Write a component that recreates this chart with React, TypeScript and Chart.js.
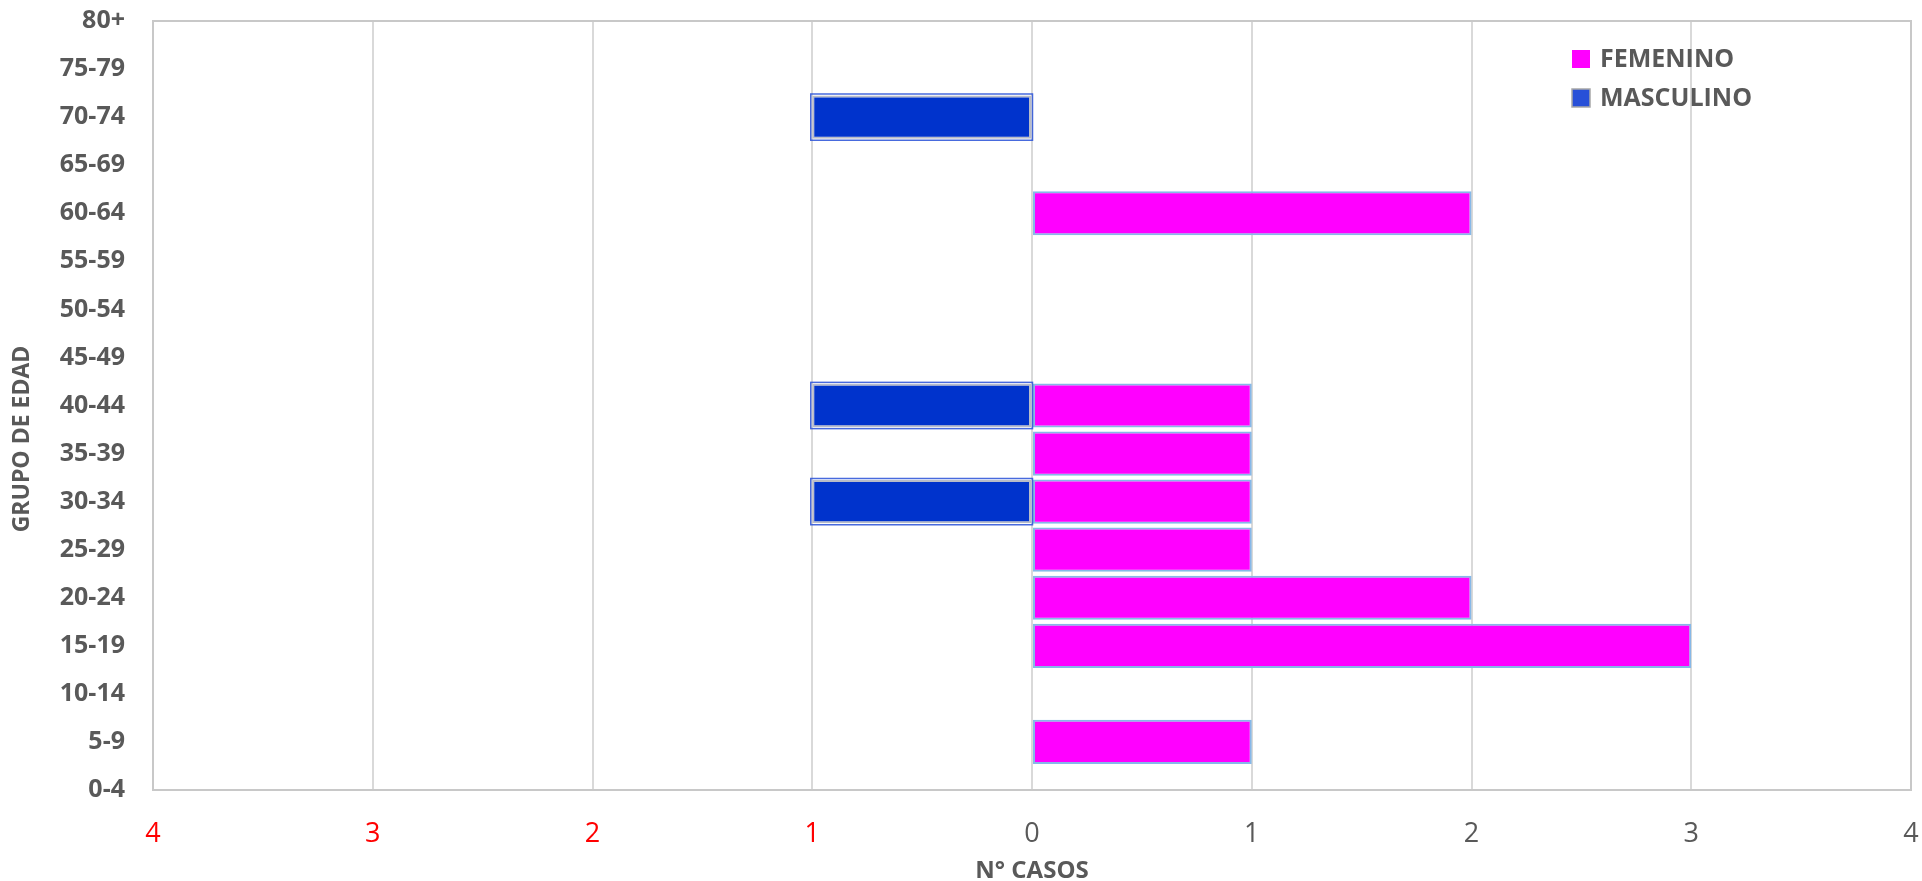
import React, { useEffect, useRef } from "react";
import { Chart, registerables } from "chart.js";

Chart.register(...registerables);

const ageGroups = [
  "0-4", "5-9", "10-14", "15-19", "20-24", "25-29", "30-34", "35-39", "40-44",
  "45-49", "50-54", "55-59", "60-64", "65-69", "70-74", "75-79", "80+",
];
const femenino = [0, 1, 0, 3, 2, 1, 1, 1, 1, 0, 0, 0, 2, 0, 0, 0, 0];
const masculino = [0, 0, 0, 0, 0, 0, 1, 0, 1, 0, 0, 0, 0, 0, 1, 0, 0];
const seriesNames = ["FEMENINO", "MASCULINO"];
const xTitle = "N° CASOS";
const yTitle = "GRUPO DE EDAD";
const xMin = -4;
const xMax = 4;

const FONT = "'Open Sans', sans-serif";
const GRAY = "#595959";

export default function App() {
  const ref = useRef<HTMLCanvasElement | null>(null);

  useEffect(() => {
    document.body.style.margin = "0";
    document.body.style.overflow = "hidden";
    const canvas = ref.current;
    if (!canvas) return;

    const borderPlugin = {
      id: "plotBorder",
      afterDatasetsDraw(chart: any) {
        const { ctx, chartArea: a } = chart;
        ctx.save();
        // outer blue outline for the male bars
        const meta = chart.getDatasetMeta(1);
        ctx.strokeStyle = "rgba(40,80,215,0.85)";
        ctx.lineWidth = 1.5;
        for (const el of meta.data as any[]) {
          if (el.skip || el.x == null || isNaN(el.x)) continue;
          const h = el.height;
          const left = Math.min(el.x, el.base);
          const w = Math.abs(el.base - el.x);
          if (!w) continue;
          ctx.strokeRect(left - 1.5, el.y - h / 2 - 1.5, w + 3, h + 3);
        }
        ctx.strokeStyle = "#C8C8C8";
        ctx.lineWidth = 2;
        ctx.strokeRect(a.left, a.top, a.right - a.left, a.bottom - a.top);
        ctx.restore();
      },
    };

    const textPlugin = {
      id: "customText",
      afterDraw(chart: any) {
        const { ctx } = chart;
        const items = [
          { name: seriesNames[0], fill: "#FF00FF", stroke: "#FF00FF", y: 59 },
          { name: seriesNames[1], fill: "#2850D8", stroke: "#A8A8A8", y: 98 },
        ];
        ctx.save();
        ctx.font = `bold 25px ${FONT}`;
        ctx.textBaseline = "middle";
        ctx.textAlign = "left";
        for (const it of items) {
          ctx.fillStyle = it.fill;
          ctx.fillRect(1572, it.y - 9, 18, 18);
          if (it.stroke !== it.fill) {
            ctx.strokeStyle = it.stroke;
            ctx.lineWidth = 1.5;
            ctx.strokeRect(1572, it.y - 9, 18, 18);
          }
          ctx.fillStyle = GRAY;
          ctx.fillText(it.name, 1600, it.y + 1);
        }
        // y-axis title
        ctx.translate(22, 439);
        ctx.rotate(-Math.PI / 2);
        ctx.textAlign = "center";
        ctx.font = `bold 23px ${FONT}`;
        ctx.fillStyle = GRAY;
        ctx.fillText(yTitle, 0, 0);
        ctx.restore();
      },
    };

    const chart = new Chart(canvas, {
      type: "bar",
      data: {
        labels: ageGroups,
        datasets: [
          {
            label: seriesNames[0],
            data: femenino.map((v) => (v ? v : null)),
            backgroundColor: "#FF00FF",
            borderColor: "#86B8E8",
            borderWidth: 2,
            borderSkipped: false,
            barPercentage: 0.92,
            categoryPercentage: 1,
          },
          {
            label: seriesNames[1],
            data: masculino.map((v) => (v ? -v : null)),
            backgroundColor: "#0033CC",
            borderColor: "#B8BCC8",
            borderWidth: 2,
            borderSkipped: false,
            barPercentage: 0.9,
            categoryPercentage: 1,
          },
        ],
      },
      plugins: [borderPlugin, textPlugin],
      options: {
        indexAxis: "y",
        animation: false,
        responsive: false,
        devicePixelRatio: 1,
        layout: { padding: { top: 21, right: 11, left: 0, bottom: 0 } },
        plugins: {
          legend: { display: false },
          tooltip: { enabled: false },
        },
        scales: {
          x: {
            type: "linear",
            min: xMin,
            max: xMax,
            stacked: true,
            ticks: {
              stepSize: 1,
              padding: 28,
              maxRotation: 0,
              font: { family: FONT, size: 27 },
              color: (c: any) => (c.tick && c.tick.value < 0 ? "#FF0000" : GRAY),
              callback: (v: any) => String(Math.abs(Number(v))),
            },
            grid: { color: "#D9D9D9", lineWidth: 2, drawTicks: false },
            border: { display: false },
            title: {
              display: true,
              text: xTitle,
              color: GRAY,
              font: { family: FONT, size: 24, weight: "bold", lineHeight: 0.8 },
              padding: { top: 0, bottom: 0 },
            },
            afterFit: (s: any) => {
              s.height = 91;
              s.paddingLeft = 0;
              s.paddingRight = 0;
            },
          },
          y: {
            type: "category",
            reverse: true,
            offset: false,
            stacked: true,
            ticks: {
              padding: 28,
              autoSkip: false,
              font: { family: FONT, size: 25, weight: "bold" },
              color: GRAY,
            },
            grid: { display: false, drawTicks: false },
            border: { display: false },
            title: { display: false },
            afterFit: (s: any) => {
              s.width = 153;
              s.paddingTop = 0;
              s.paddingBottom = 0;
            },
          },
        },
      },
    } as any);

    return () => chart.destroy();
  }, []);

  return (
    <div style={{ width: 1922, height: 881, background: "#fff" }}>
      <canvas ref={ref} width={1922} height={881} style={{ display: "block" }} />
    </div>
  );
}
